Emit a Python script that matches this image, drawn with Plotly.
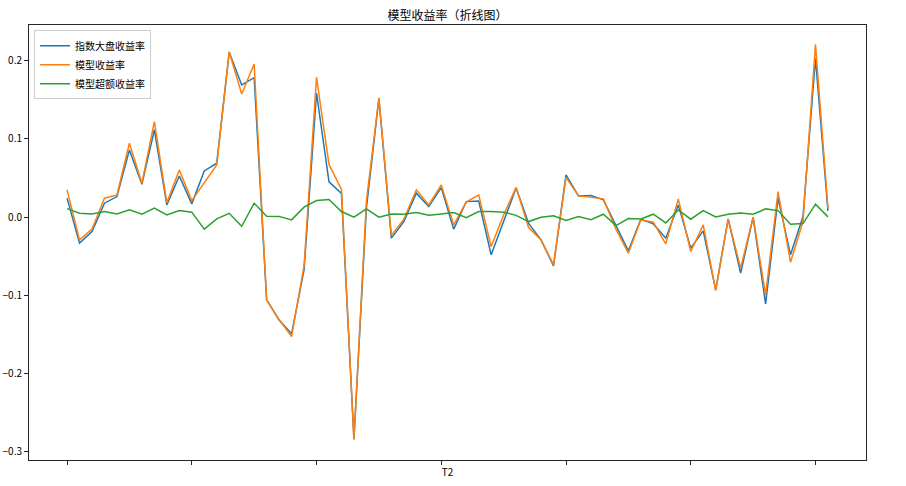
# -*- coding: utf-8 -*-
"""模型收益率 折线图"""
import plotly.graph_objects as go

# ── 数据 ──────────────────────────────────────────
index_ret = [
    0.0243, -0.0332, -0.0184, 0.0179, 0.0263, 0.0860, 0.0421, 0.1115, 0.0157, 0.0527,
    0.0170, 0.0591, 0.0690, 0.2107, 0.1690, 0.1783, -0.1056, -0.1315, -0.1490, -0.0673,
    0.1587, 0.0451, 0.0304, -0.2835, 0.0119, 0.1517, -0.0268, -0.0056, 0.0307, 0.0135,
    0.0378, -0.0153, 0.0199, 0.0208, -0.0481, -0.0047, 0.0374, -0.0079, -0.0290, -0.0622,
    0.0540, 0.0272, 0.0276, 0.0221, -0.0098, -0.0430, -0.0026, -0.0086, -0.0268, 0.0157,
    -0.0396, -0.0175, -0.0928, -0.0022, -0.0715, 0.0000, -0.1107, 0.0243, -0.0481, 0.0008,
    0.2031, 0.0080,
]
model_ret = [
    0.0349, -0.0290, -0.0153, 0.0243, 0.0285, 0.0945, 0.0434, 0.1221, 0.0186, 0.0604,
    0.0212, 0.0434, 0.0668, 0.2115, 0.1575, 0.1958, -0.1056, -0.1308, -0.1525, -0.0622,
    0.1788, 0.0674, 0.0355, -0.2844, 0.0208, 0.1524, -0.0232, -0.0026, 0.0349, 0.0157,
    0.0413, -0.0098, 0.0192, 0.0285, -0.0375, 0.0029, 0.0381, -0.0133, -0.0290, -0.0609,
    0.0508, 0.0272, 0.0250, 0.0234, -0.0153, -0.0460, -0.0034, -0.0064, -0.0341, 0.0234,
    -0.0439, -0.0098, -0.0937, -0.0026, -0.0651, 0.0000, -0.0992, 0.0327, -0.0575, -0.0056,
    0.2209, 0.0115,
]
excess_ret = [
    0.0110, 0.0051, 0.0042, 0.0072, 0.0042, 0.0093, 0.0038, 0.0115, 0.0029, 0.0084,
    0.0064, -0.0153, -0.0022, 0.0049, -0.0117, 0.0179, 0.0013, 0.0010, -0.0034, 0.0128,
    0.0212, 0.0227, 0.0072, 0.0000, 0.0106, 0.0000, 0.0042, 0.0038, 0.0059, 0.0026,
    0.0042, 0.0059, -0.0005, 0.0072, 0.0072, 0.0064, 0.0023, -0.0056, 0.0000, 0.0017,
    -0.0041, 0.0008, -0.0031, 0.0038, -0.0107, -0.0018, -0.0022, 0.0038, -0.0073, 0.0093,
    -0.0026, 0.0084, 0.0004, 0.0038, 0.0055, 0.0038, 0.0106, 0.0084, -0.0089, -0.0082,
    0.0166, 0.0004,
]
x = list(range(len(index_ret)))

y_ticks = [0.2, 0.1, 0.0, -0.1, -0.2, -0.3]
y_tick_text = ['0.2', '0.1', '0.0', '\u22120.1', '\u22120.2', '\u22120.3']
x_ticks = [0, 10, 20, 30, 40, 50, 60]

FONT = 'Noto Sans CJK SC'

# ── 绘图 ──────────────────────────────────────────
fig = go.Figure()
series = [
    ('指数大盘收益率', index_ret, '#1f77b4'),
    ('模型收益率', model_ret, '#ff7f0e'),
    ('模型超额收益率', excess_ret, '#2ca02c'),
]
for name, vals, color in series:
    fig.add_trace(go.Scatter(x=x, y=vals, name=name, mode='lines',
                             line=dict(color=color, width=1.5)))

axis_common = dict(showline=True, linecolor='#262626', linewidth=1, mirror=True,
                   showgrid=False, zeroline=False, ticks='outside', ticklen=4,
                   tickwidth=1, tickcolor='#262626', automargin=False)
fig.update_xaxes(range=[-3.05, 64.05], tickvals=x_ticks, showticklabels=False,
                 title=dict(text='T2', font=dict(size=10, color='#000'), standoff=4),
                 **axis_common)
fig.update_yaxes(range=[-0.3103, 0.2456], tickvals=y_ticks, ticktext=y_tick_text,
                 tickfont=dict(size=10, color='#000'), **axis_common)

fig.update_layout(
    width=906, height=486,
    margin=dict(l=29, r=40, t=25, b=26),
    paper_bgcolor='white', plot_bgcolor='white',
    font=dict(family=FONT, size=10, color='#000'),
    title=dict(text='模型收益率（折线图）', x=0.494, xanchor='center',
               y=0.968, yanchor='middle', font=dict(size=12, color='#000'),
               automargin=False),
    legend=dict(x=0.006, y=0.988, xanchor='left', yanchor='top',
                bgcolor='rgba(255,255,255,0.8)', bordercolor='#cccccc', borderwidth=1,
                font=dict(size=10), tracegroupgap=0, itemwidth=30),
    showlegend=True,
)

# 页面默认 body 有 8px 边距, 去掉
fig.write_html("out.html", config={'displayModeBar': False},
               post_script="document.body.style.margin='0';")
